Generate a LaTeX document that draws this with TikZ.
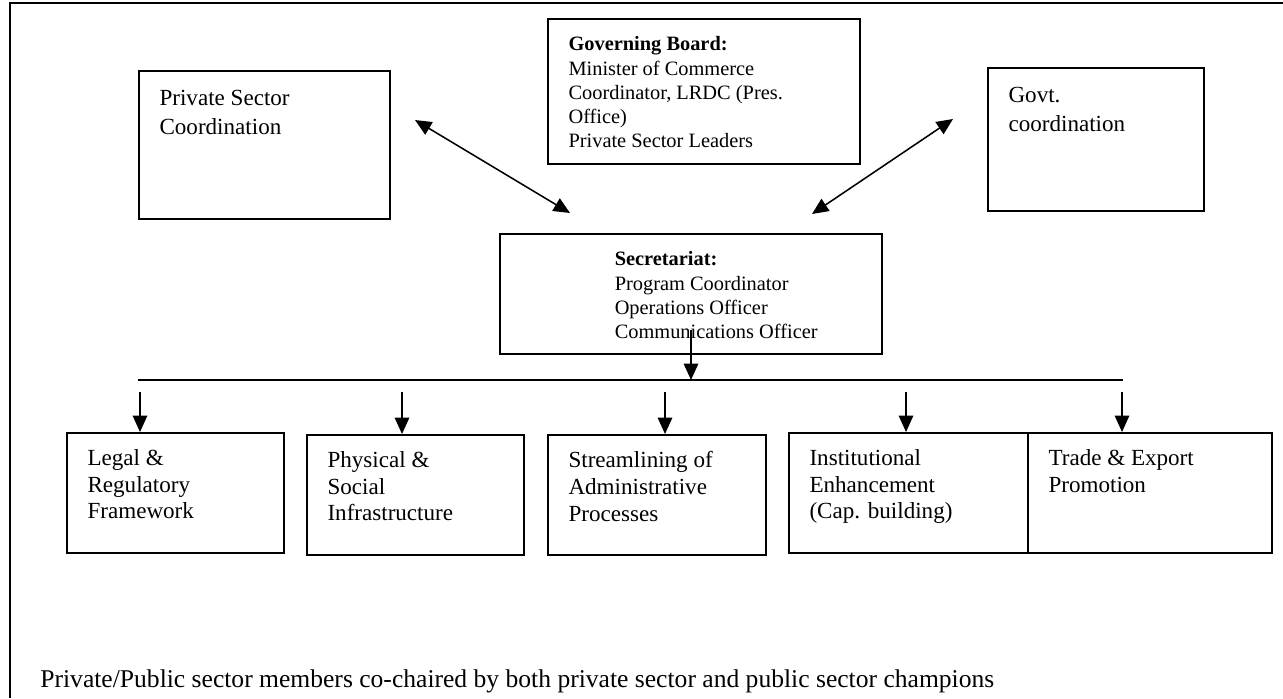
\documentclass[tikz,border=0pt]{standalone}
\usepackage{fontspec}
\setmainfont{Liberation Serif}
\usetikzlibrary{positioning, arrows.meta}

\begin{document}
\begin{tikzpicture}[
x=0.52pt, y=-0.52pt,
unitbox/.style={draw, line width=0.9pt, anchor=north west, inner sep=0pt},
boxtext/.style={inner sep=0pt, align=left, font=\fontsize{12}{13.8}\selectfont},
toptext/.style={inner sep=0pt, align=left, font=\fontsize{12}{14.8}\selectfont},
smalltext/.style={inner sep=0pt, align=left, font=\fontsize{10.6}{12.6}\selectfont},
link/.style={line width=0.8pt, {Triangle[length=8.5pt,width=7.5pt]}-{Triangle[length=8.5pt,width=7.5pt]}},
feed/.style={line width=0.8pt, -{Triangle[length=8.5pt,width=7.5pt]}},
node distance=9pt and 11pt
]
\useasboundingbox (0,0) rectangle (1283,698);
\draw[line width=1.3pt] (1283,3) -- (10,3) -- (10,698);

%Boxes
\node[unitbox, minimum width=130.5pt, minimum height=77pt] (psc) at (138,70) {};
\node[unitbox, minimum width=162.2pt, minimum height=75.4pt] (gb) at (547,18) {};
\node[unitbox, minimum width=112.3pt, minimum height=74.4pt] (gc) at (987,67) {};
\node[unitbox, minimum width=198.6pt, minimum height=62.4pt] (sec) at (499,233) {};
\node[unitbox, minimum width=112.8pt, minimum height=62.4pt] (legal) at (66,432) {};
\node[unitbox, minimum width=112.8pt, minimum height=62.4pt] (phys) at (306,434) {};
\node[unitbox, minimum width=113.4pt, minimum height=62.4pt] (stream) at (547,434) {};
\node[unitbox, minimum width=124.3pt, minimum height=62.4pt] (inst) at (788,432) {};
\node[unitbox, minimum width=126.9pt, minimum height=62.4pt] (trade) at (1027,432) {};

%Texts
\node[toptext] (psct) [below right=10.5pt and 11pt of psc.north west] {Private Sector\\Coordination};
\node[smalltext] (gbt) [below right=9.5pt and 11pt of gb.north west] {\textbf{Governing Board:}\\Minister of Commerce\\Coordinator, LRDC (Pres.\\Office)\\Private Sector Leaders};
\node[toptext] (gct) [below right=10.5pt and 11pt of gc.north west] {Govt.\\coordination};
\node[smalltext] (sect) [below right=9.5pt and 60pt of sec.north west] {\textbf{Secretariat:}\\Program Coordinator\\Operations Officer\\Communications Officer};
\node[boxtext] (legalt) [below right=of legal.north west] {Legal \&\\Regulatory\\Framework};
\node[boxtext] (physt) [below right=of phys.north west] {Physical \&\\Social\\Infrastructure};
\node[boxtext] (streamt) [below right=of stream.north west] {Streamlining of\\Administrative\\Processes};
\node[boxtext] (instt) [below right=of inst.north west] {Institutional\\Enhancement\\(Cap. building)};
\node[boxtext] (tradet) [below right=of trade.north west] {Trade \& Export\\Promotion};
\node[boxtext, font=\fontsize{13.3}{15}\selectfont, anchor=base west] (note) at (40,687) {Private/Public sector members co-chaired by both private sector and public sector champions};

%Connectors
\coordinate (pscend) at (415,120);
\coordinate (secleft) at (570,213);
\coordinate (secright) at (812,214);
\coordinate (gcend) at (953,119);
\coordinate (secout) at (691,330);
\coordinate (busl) at (138,380);
\coordinate (busr) at (1123,380);
\draw[link] (pscend) -- (secleft);
\draw[link] (secright) -- (gcend);
\draw[feed] (secout) -- (secout |- busl);
\draw[line width=0.8pt] (busl) -- (busr);

\foreach \i/\x/\n in {1/140/legal, 2/402/phys, 3/665/stream, 4/906/inst, 5/1122/trade}{
  \coordinate (drop\i) at (\x,392);
  \draw[feed] (drop\i) -- (drop\i |- \n.north);
}
\end{tikzpicture}
\end{document}
